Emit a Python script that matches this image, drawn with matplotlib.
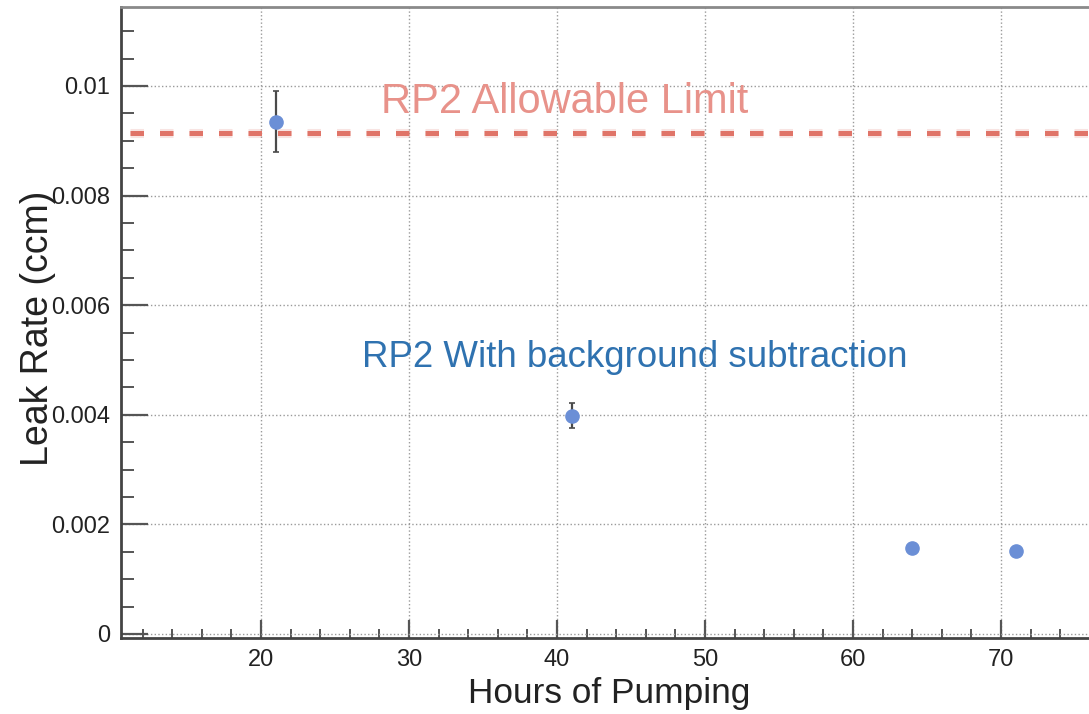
import matplotlib
matplotlib.use("Agg")
import matplotlib.pyplot as plt
from matplotlib.ticker import MultipleLocator, FuncFormatter

plt.rcParams['font.family'] = ['Liberation Sans', 'DejaVu Sans']

hours = [21, 41, 64, 71]
leak_rate = [0.00935, 0.00398, 0.00157, 0.00152]
leak_err = [0.00055, 0.00023, 0.0, 0.0]
allowable_limit = 0.00915
limit_label = "RP2 Allowable Limit"
series_label = "RP2 With background subtraction"
x_label = "Hours of Pumping"
y_label = "Leak Rate (ccm)"

fig = plt.figure(figsize=(10.89, 7.14), dpi=100)
ax = fig.add_axes([121/1089, 1-638/714, 1-121/1089, (638-7)/714])

xlim = (10.54, 75.95)
ylim = (-0.000073, 0.01144)
ax.set_xlim(*xlim)
ax.set_ylim(*ylim)

ax.grid(True, which='major', linestyle=':', color='#9a9a9a', linewidth=1.0)
ax.set_axisbelow(True)

# allowable limit line (soft halo + dashes, same dash pattern in points)
dash_on, dash_off = 9.72, 11.52
lw_main, lw_halo = 3.6, 6.5
ax.plot([xlim[0] + 0.6, xlim[1]], [allowable_limit]*2, color='#e07a6e', alpha=0.2,
        linewidth=lw_halo, zorder=2, dashes=(dash_on/lw_halo, dash_off/lw_halo),
        dash_capstyle='butt')
ax.plot([xlim[0] + 0.6, xlim[1]], [allowable_limit]*2, color='#e07468',
        linewidth=lw_main, zorder=3, dashes=(dash_on/lw_main, dash_off/lw_main),
        dash_capstyle='butt')

ax.errorbar(hours, leak_rate, yerr=leak_err, fmt='o', color='#6b8fd6',
            markersize=9.5, ecolor='#4a4a4a', elinewidth=1.6, capsize=2.2,
            capthick=1.2, zorder=5)

ax.text(28.1, 0.00971, limit_label, color='#e8928a', fontsize=30,
        ha='left', va='center')
ax.text(26.8, 0.00505, series_label, color='#2f72b0', fontsize=26.4,
        ha='left', va='center')

ax.xaxis.set_major_locator(MultipleLocator(10))
ax.xaxis.set_minor_locator(MultipleLocator(2))
ax.yaxis.set_major_locator(MultipleLocator(0.002))
ax.yaxis.set_minor_locator(MultipleLocator(0.0005))
ax.yaxis.set_major_formatter(FuncFormatter(lambda v, p: '%g' % round(v, 6)))
ax.xaxis.set_major_formatter(FuncFormatter(lambda v, p: '%g' % v))

ax.tick_params(axis='both', which='both', direction='in', colors='#555555',
               labelcolor='#222222', labelsize=17)
ax.tick_params(axis='y', which='major', length=19.4, width=1.6, pad=8)
ax.tick_params(axis='y', which='minor', length=9.4, width=1.4)
ax.tick_params(axis='x', which='major', length=13, width=1.6, pad=8)
ax.tick_params(axis='x', which='minor', length=6.5, width=1.4)

for s in ['left', 'bottom']:
    ax.spines[s].set_color('#444444')
    ax.spines[s].set_linewidth(2.0)
ax.spines['top'].set_color('#8a8a8a')
ax.spines['top'].set_linewidth(2.0)
ax.spines['right'].set_visible(False)

fig.text(609/1089, 1-694/714, x_label, fontsize=25.4, ha='center', va='center',
         color='#222222')
fig.text(38/1089, 1-328/714, y_label, fontsize=27, ha='center', va='center',
         rotation=90, color='#222222')

fig.savefig('out.png', dpi=100)
